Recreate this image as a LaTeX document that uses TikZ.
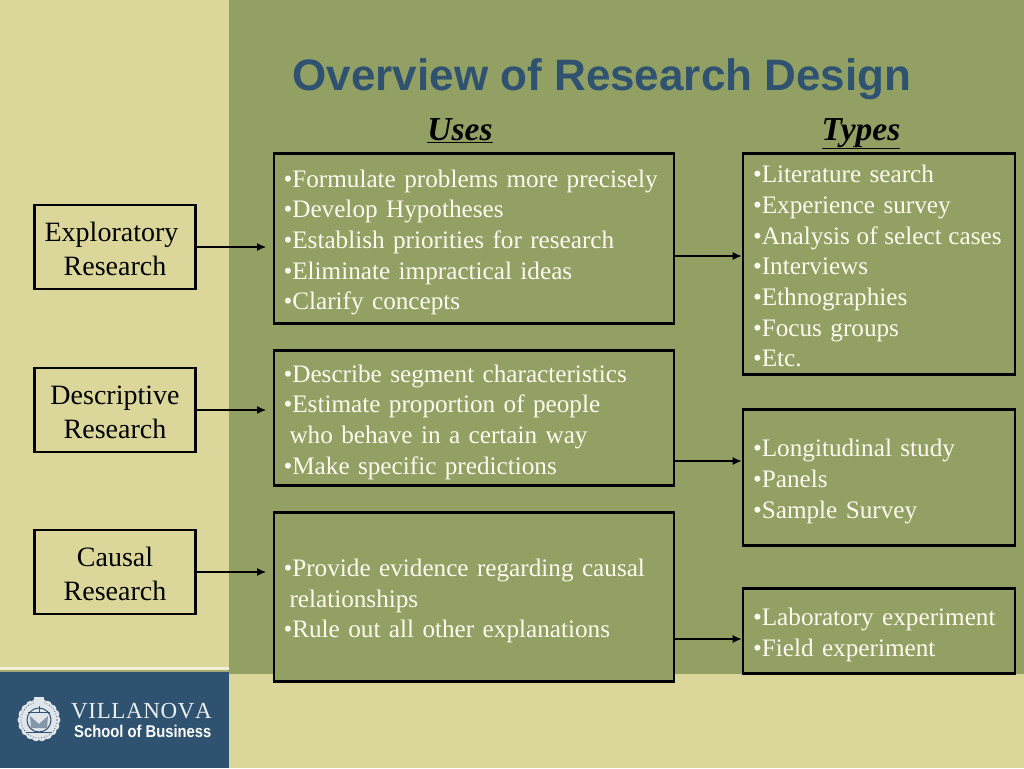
\documentclass[tikz,border=0pt]{standalone}
\usepackage{xcolor}
\usepackage{fontspec}
\usetikzlibrary{arrows.meta}
\setmainfont{Liberation Serif}
\setsansfont{Liberation Sans}
\definecolor{creamBg}{HTML}{DBD79B}
\definecolor{oliveBg}{HTML}{93A064}
\definecolor{navyBg}{HTML}{2F5270}
\definecolor{boxText}{HTML}{FBFBEF}
\tikzset{
    typebox/.style={draw=black, line width=2.8pt, fill=oliveBg, text=boxText, align=left,
        font=\fontsize{25.2}{30.7}\selectfont, inner sep=0pt, execute at begin node={\rule{0pt}{25.5pt}}},
    kindbox/.style={draw=black, line width=2.8pt, fill=creamBg, text=black, align=center,
        font=\fontsize{28}{34}\selectfont, inner sep=0pt, minimum width=161pt, minimum height=84pt,
        text width=155pt, execute at begin node={\rule{0pt}{23pt}}},
    heading/.style={font=\fontsize{33.5}{36}\selectfont\bfseries\itshape, text=black, inner sep=0pt, anchor=base},
    link/.style={line width=1.1pt, -{Latex[length=9pt,width=8pt]}}
}
\begin{document}
\begin{tikzpicture}[x=1pt, y=-1pt]
    \useasboundingbox (0,0) rectangle (1024,768);
    % Background panels
    \fill[creamBg] (0,0) rectangle (1024,768);
    \fill[oliveBg] (229,0) rectangle (1024,674);
    \fill[oliveBg!80!creamBg] (0,670) rectangle (229,673);
    \fill[white!60!creamBg] (0,667) rectangle (229,670);
    \fill[navyBg] (0,672) rectangle (229,768);
    % Title and column heads
    \node[font=\fontsize{44}{48}\selectfont\sffamily\bfseries, text=navyBg, inner sep=0pt] (title) at (602,79) {Overview of Research Design};
    \node[heading] (uses) at (460,140) {\underline{Uses}};
    \node[heading] (types) at (861,140) {\underline{Types}};
    % Research kinds
    \node[kindbox] (exploratory) at (115,247) {\hspace*{-7pt}Exploratory\\Research};
    \node[kindbox] (descriptive) at (115,410) {Descriptive\\Research};
    \node[kindbox] (causal) at (115,572) {Causal\\Research};
    % Uses
    \node[typebox, minimum width=400pt, minimum height=170pt, text width=381pt] (uses1) at (474,238.5) {%
        •Formulate problems more precisely\\•Develop Hypotheses\\•Establish priorities for research\\•Eliminate impractical ideas\\•Clarify concepts};
    \node[typebox, minimum width=400pt, minimum height=135pt, text width=381pt] (uses2) at (474,418) {%
        •Describe segment characteristics\\•Estimate proportion of people\\\hspace*{6pt}who behave in a certain way\\•Make specific predictions};
    \node[typebox, minimum width=400pt, minimum height=169pt, text width=381pt] (uses3) at (474,597) {%
        •Provide evidence regarding causal\\\hspace*{6pt}relationships\\•Rule out all other explanations};
    % Types
    \node[typebox, minimum width=272pt, minimum height=221pt, text width=252pt] (types1) at (879,264) {%
        •Literature search\\•Experience survey\\\mbox{\spaceskip=6.7pt •Analysis of select cases}\\•Interviews\\•Ethnographies\\•Focus groups\\•Etc.\rule[-4pt]{0pt}{0pt}};
    \node[typebox, minimum width=272pt, minimum height=136pt, text width=252pt] (types2) at (879,477.5) {%
        •Longitudinal study\\•Panels\\•Sample Survey};
    \node[typebox, minimum width=272pt, minimum height=85pt, text width=252pt] (types3) at (879,631) {%
        •Laboratory experiment\\•Field experiment};
    % Arrows with free ends stop short of the uses boxes
    \coordinate (end1) at (266,247);
    \coordinate (end2) at (266,410);
    \coordinate (end3) at (266,572);
    \draw[link] (exploratory.east) -- (end1);
    \draw[link] (descriptive.east) -- (end2);
    \draw[link] (causal.east) -- (end3);
    \draw[link] (uses1.east |- 0,256) -- (types1.west |- 0,256);
    \draw[link] (uses2.east |- 0,461) -- (types2.west |- 0,461);
    \draw[link] (uses3.east |- 0,639) -- (types3.west |- 0,639);
    % Logo crest
    \foreach \a in {0,20,...,340}
        \fill[white!85!navyBg] (39,720) ++(\a:17) circle (4.5);
    \fill[white!85!navyBg] (39,720) circle (15);
    \draw[navyBg, line width=.8pt, dotted] (39,720) circle (18);
    \draw[navyBg, line width=1pt] (39,720) circle (12);
    \fill[navyBg!60!white] (30,716) -- (39,724) -- (48,716) -- (47,728) -- (31,728) -- cycle;
    \draw[navyBg, line width=.8pt] (26,732) -- (52,732) (28,712) -- (50,712) (39,703) -- (39,712);
    \fill[white!85!navyBg] (34,697) rectangle (44,706);
    % Logo text
    \node[font=\fontsize{23}{24}\selectfont, text=white!90!navyBg, inner sep=0pt, anchor=west] (villanova) at (71,711) {V\kern.65pt I\kern.65pt L\kern.65pt L\kern.65pt A\kern.65pt N\kern.65pt O\kern.65pt V\kern.65pt A};
    \node[font=\fontsize{17}{18}\selectfont\sffamily\bfseries, text=white, inner sep=0pt, anchor=west, xscale=.87] (school) at (74,731) {School of Business};
\end{tikzpicture}
\end{document}
